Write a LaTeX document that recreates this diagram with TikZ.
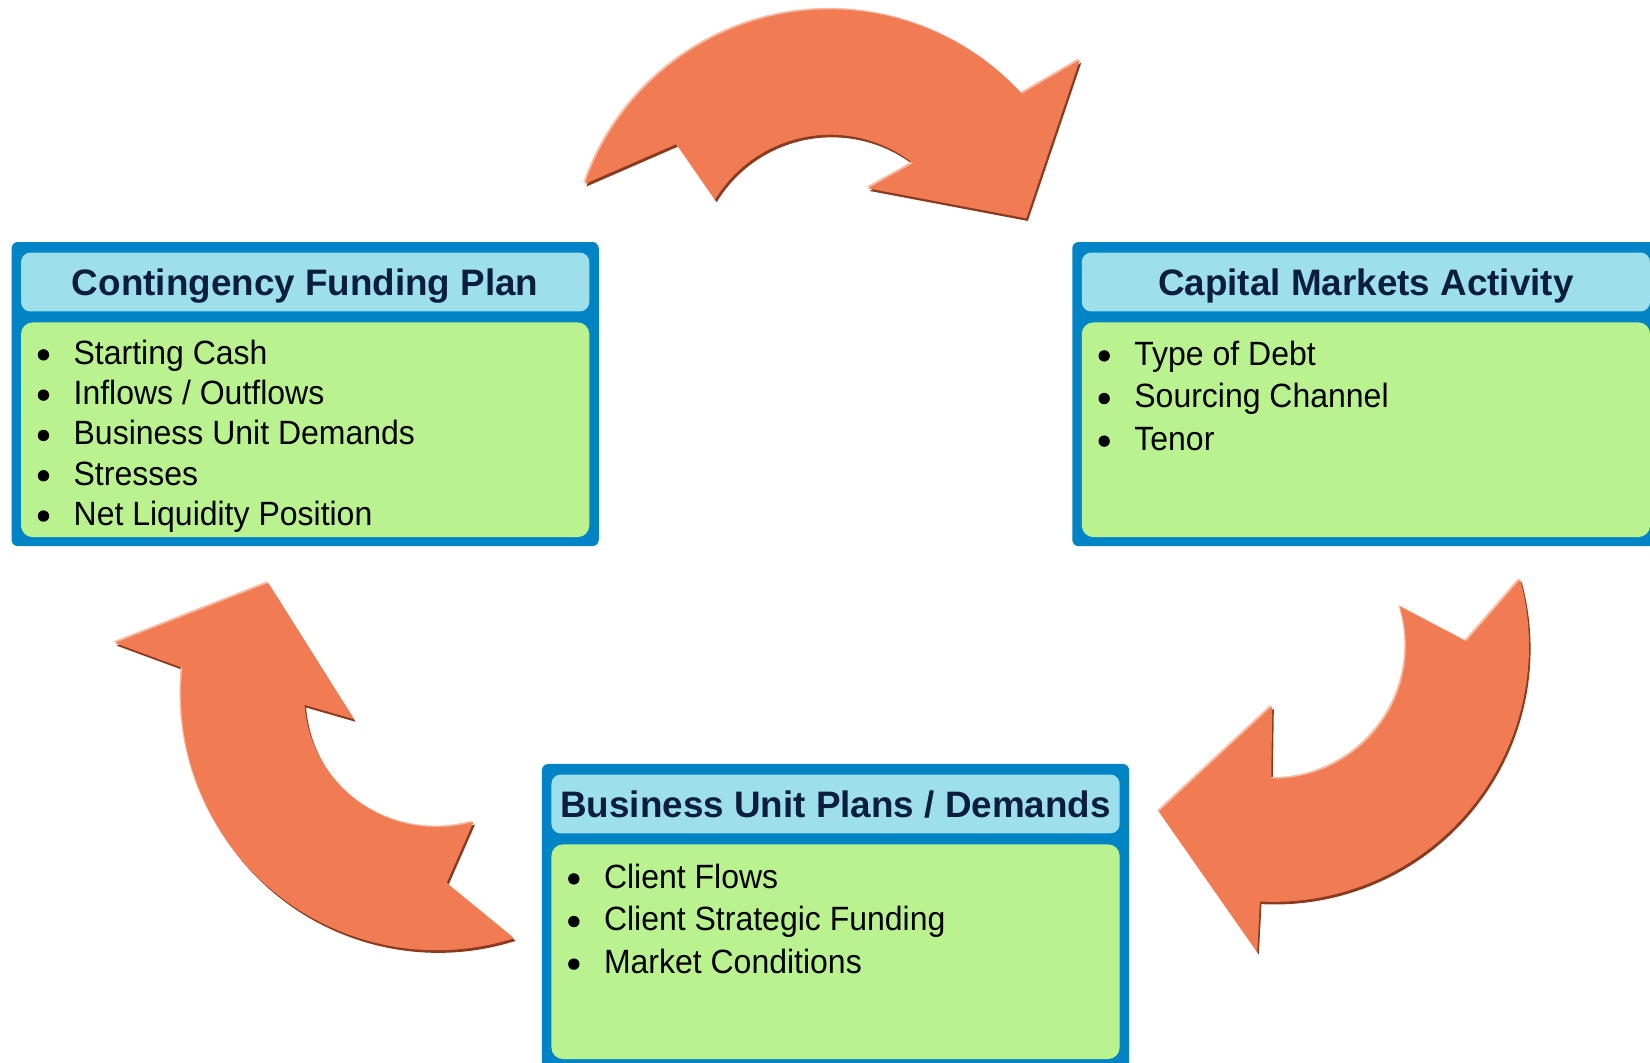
\documentclass[tikz,border=0pt]{standalone}
\usepackage{fontspec}
\setmainfont{Liberation Sans}
\newfontfamily\itemfamily[FakeStretch=0.95]{Liberation Sans}
\usetikzlibrary{positioning}

\definecolor{frameblue}{HTML}{0084C6}
\definecolor{headblue}{HTML}{9EDFEC}
\definecolor{bodygreen}{HTML}{B9F28F}
\definecolor{titlenavy}{HTML}{0B1E3B}
\definecolor{arroworange}{HTML}{F17B53}
\definecolor{arrowlight}{HTML}{F8B9A1}
\definecolor{arrowdark}{HTML}{8A3B1F}

\tikzset{
  frame/.style={fill=frameblue, rounded corners=6pt, minimum width=558pt, minimum height=289pt, inner sep=0pt},
  head/.style={fill=headblue, rounded corners=9pt, minimum width=540pt, minimum height=56pt, inner sep=0pt,
    text height=25pt, text depth=0pt, text=titlenavy, font=\fontsize{35}{40}\selectfont\bfseries},
  body/.style={fill=bodygreen, rounded corners=11pt, minimum width=540pt, minimum height=204pt, inner sep=0pt},
  item/.style={anchor=base west, inner sep=0pt, font=\itemfamily\fontsize{32}{36}\selectfont},
}

\newcommand{\bevelfill}[1]{%
  \fill[arrowdark, shift={(1.5,2.5)}] #1;
  \fill[arrowlight, shift={(-1.5,-1.5)}] #1;
  \fill[arroworange] #1;}

\begin{document}
\begin{tikzpicture}[x=1pt, y=-1pt]
\useasboundingbox (0,0) rectangle (1568,1010);

\begin{scope}[shift={(789,256)}]
\bevelfill{(-160.8:247) arc[start angle=-160.8, end angle=-42.5, radius=247] -- (-40:309.5) -- (-14.6:192.5)
  -- (-65:85) -- (-52:128) arc[start angle=-52, end angle=-148.8, radius=128] -- (-140.8:188.6) -- cycle}
\end{scope}
\begin{scope}[shift={(1210,614)}]
\bevelfill{(-15.1:243) arc[start angle=-15.1, end angle=93, radius=243] -- (93:291) -- (124.65:191)
  -- (91:57) -- (90.9:126) arc[start angle=90.9, end angle=-17.4, radius=126] -- (-1.4:183.4) -- cycle}
\end{scope}
\begin{scope}[shift={(415,660)}]
\bevelfill{(72.4:243) arc[start angle=72.4, end angle=186, radius=243] -- (189.1:309.6) -- (213.5:192)
  -- (163.4:82) -- (175.5:126) arc[start angle=175.5, end angle=73.9, radius=126] -- (87:179.4) -- cycle}
\end{scope}

\node[frame] (cfp) at (290,374.5) {};
\node[head, below=10pt of cfp.north] (cfp-head) {Contingency Funding Plan};
\node[body, below=10pt of cfp-head] (cfp-body) {};
\foreach \txt [count=\i from 0] in {Starting Cash, Inflows / Outflows, Business Unit Demands, Stresses, Net Liquidity Position}{
  \node[item] (cfp-item\i) at ([shift={(50,40+38.3*\i)}]cfp-body.north west) {\txt};
  \fill ([shift={(-28.5,-9)}]cfp-item\i.base west) circle (5.4);
}

\node[frame] (cma) at (1298,374.5) {};
\node[head, below=10pt of cma.north] (cma-head) {Capital Markets Activity};
\node[body, below=10pt of cma-head] (cma-body) {};
\foreach \txt [count=\i from 0] in {Type of Debt, Sourcing Channel, Tenor}{
  \node[item] (cma-item\i) at ([shift={(50,41+40.5*\i)}]cma-body.north west) {\txt};
  \fill ([shift={(-28.5,-9)}]cma-item\i.base west) circle (5.4);
}

\node[frame] (bup) at (794,870.5) {};
\node[head, below=10pt of bup.north] (bup-head) {Business Unit Plans / Demands};
\node[body, below=10pt of bup-head] (bup-body) {};
\foreach \txt [count=\i from 0] in {Client Flows, Client Strategic Funding, Market Conditions}{
  \node[item] (bup-item\i) at ([shift={(50,42+40.5*\i)}]bup-body.north west) {\txt};
  \fill ([shift={(-28.5,-9)}]bup-item\i.base west) circle (5.4);
}
\end{tikzpicture}
\end{document}
